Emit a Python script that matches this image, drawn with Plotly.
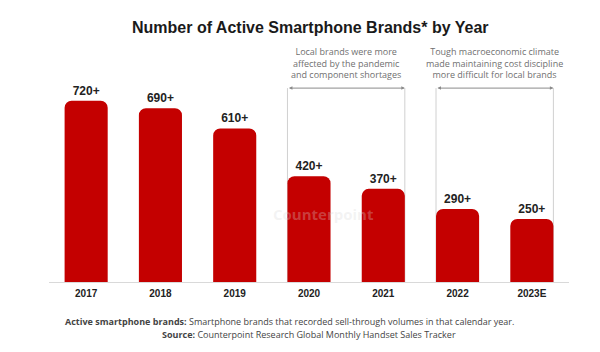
import plotly.graph_objects as go

years = ["2017", "2018", "2019", "2020", "2021", "2022", "2023E"]
brands = [720, 690, 610, 420, 370, 290, 250]
labels = ["720+", "690+", "610+", "420+", "370+", "290+", "250+"]

note1 = "Local brands were more<br>affected by the pandemic<br>and component shortages"
note2 = "Tough macroeconomic climate<br>made maintaining cost discipline<br>more difficult for local brands"

BAR_W = 0.58
RED = "#C40000"
GRAY = "#8a8a8a"
BR_Y = 770

fig = go.Figure()
fig.add_trace(go.Bar(
    x=list(range(len(years))), y=brands, text=[f"<b>{t}</b>" for t in labels],
    textposition="outside", cliponaxis=False,
    textfont=dict(family="Liberation Sans", size=12, color="#222222"),
    marker=dict(color=RED, cornerradius=7, line=dict(width=0)),
    width=BAR_W, hoverinfo="skip",
))

shapes = []
annotations = []
for (i0, i1, note) in [(3, 4, note1), (5, 6, note2)]:
    xl = i0 - BAR_W / 2
    xr = i1 + BAR_W / 2
    for xv in (xl, xr):
        shapes.append(dict(type="line", xref="x", yref="y", x0=xv, x1=xv, y0=0, y1=BR_Y,
                           line=dict(color="#d0d0d0", width=1), layer="below"))
    annotations.append(dict(x=xr, y=BR_Y, ax=xl, ay=BR_Y, xref="x", yref="y", axref="x", ayref="y",
                            text="", showarrow=True, arrowhead=2, arrowside="end+start",
                            arrowsize=0.7, arrowwidth=1, arrowcolor=GRAY))
    annotations.append(dict(x=(xl + xr) / 2, y=BR_Y + 22, xref="x", yref="y", text=note,
                            showarrow=False, yanchor="bottom", align="center",
                            font=dict(family="Open Sans", size=9, color="#707070")))

# watermark
annotations.append(dict(x=3.2, y=270, xref="x", yref="y", text="<b>Counterpoint</b>", showarrow=False,
                        font=dict(family="Open Sans", size=15, color="rgba(215,215,215,0.3)")))

annotations.append(dict(x=310, y=17, xref="paper", yref="paper", text="<b>Number of Active Smartphone Brands* by Year</b>",
                        showarrow=False, font=dict(family="Liberation Sans", size=16, color="#1a1a1a")))
annotations.append(dict(x=289, y=328.5, xref="paper", yref="paper",
                        text="<b>Active smartphone brands:</b> Smartphone brands that recorded sell-through volumes in that calendar year.",
                        showarrow=False, borderpad=0, font=dict(family="Open Sans", size=9, color="#444444")))
annotations.append(dict(x=309, y=342, xref="paper", yref="paper",
                        text="<b>Source:</b> Counterpoint Research Global Monthly Handset Sales Tracker",
                        showarrow=False, borderpad=0, font=dict(family="Open Sans", size=9, color="#444444")))

# convert paper pixel annotations to paper fractions
W, H = 600, 352
ML, MR, MT, MB = 49, 31, 40, 70
for a in annotations:
    if a["xref"] == "paper":
        a["x"] = (a["x"] - ML) / (W - ML - MR)
        a["y"] = 1 - (a["y"] - MT) / (H - MT - MB)

fig.update_layout(
    width=W, height=H, margin=dict(l=ML, r=MR, t=MT, b=MB),
    paper_bgcolor="white", plot_bgcolor="white", showlegend=False,
    bargap=1 - BAR_W,
    shapes=shapes, annotations=annotations,
    xaxis=dict(range=[-0.5, 6.5], tickmode="array", tickvals=list(range(len(years))),
               ticktext=[f"<b>{y}</b>" for y in years], showline=True, linecolor="#d9d9d9", linewidth=1,
               showgrid=False, zeroline=False, ticks="", ticklabelstandoff=2,
               tickfont=dict(family="Liberation Sans", size=10, color="#222222"), fixedrange=True),
    yaxis=dict(range=[0, 961], visible=False, showgrid=False, zeroline=False, fixedrange=True),
)

fig.write_html("out.html", config={"displayModeBar": False})
